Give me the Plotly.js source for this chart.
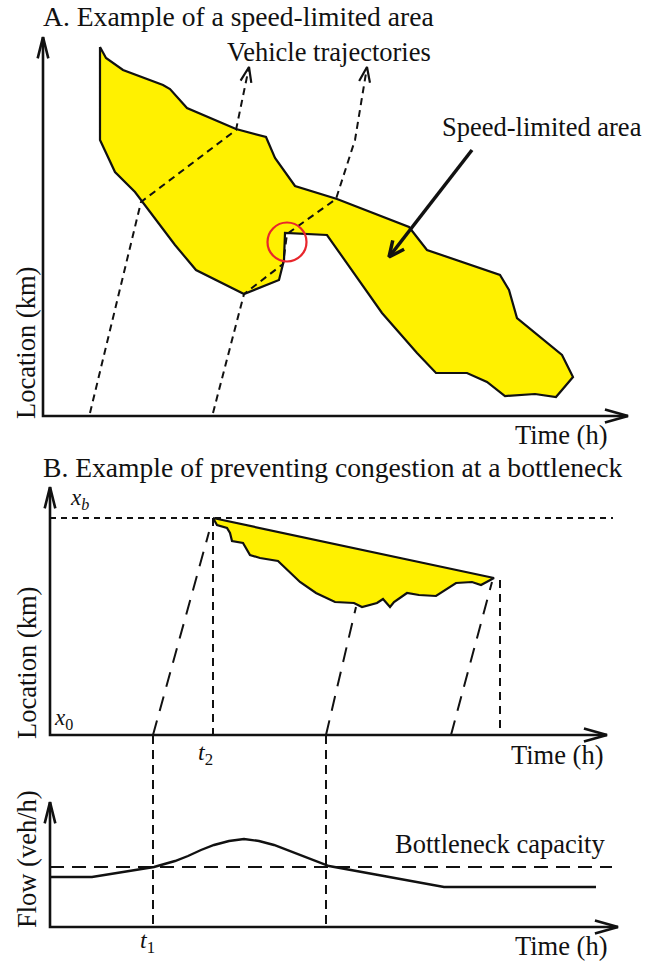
<!DOCTYPE html>
<html><head><meta charset="utf-8">
<script src="https://cdn.plot.ly/plotly-3.0.1.min.js"></script>
<style>html,body{margin:0;padding:0;background:#fff;}#chart{width:663px;height:962px;}</style>
</head><body><div id="chart"></div>
<script>
// ---------- Panel A: speed-limited area (schematic units = figure space) ----------
const areaAX = [100,106,123,150,163,170,187,236,266,275,295,337,409,427,500,509,517,562,573,556,535,505,487,467,436,417,382,327,285,284,279,244,196,175,141,135,115,100,100];
const areaAY = [47,58,70,80,85,89,108,129,137,158,186,199,227,250,275,290,318,355,377,397,394,396,382,373,373,353,313,235,233,260,280,294,270,245,200,192,172,140,47];
const trajA1X = [90,141,236,249];
const trajA1Y = [413,202,130,67];
const trajA2X = [213,244,283,287,336,355,367];
const trajA2Y = [413,294,264,234,199,140,67];
const axisAX = [43,43,628];
const axisAY = [37,416,416];
const pointerX = [472,389];
const pointerY = [150,257];
const circleA = {cx:287, cy:242, r:19.5};

// ---------- Panel B: bottleneck ----------
const areaBX = [213,494,481,472,456,436,419,407,394,390,383,377,362,354,335,316,300,290,278,260,250,243,232,230,227,217,213];
const areaBY = [518,578,585,582,583,596,595,593,602,607,599,603,607,603,602,593,582,572,561,558,555,543,541,533,528,525,518];
const axisBX = [50,50,607];
const axisBY = [487,735,735];
const xbLineX = [50,613];
const xbLineY = [518,518];
const trajB = [
  {x:[153,209], y:[735,532]},
  {x:[326,356], y:[735,607]},
  {x:[451,492], y:[735,582]}
];
const vertB = [
  {x:[213,213], y:[518,735]},
  {x:[500,500], y:[580,735]}
];

// ---------- Panel C: flow ----------
const axisCX = [50,50,618];
const axisCY = [802,927,927];
const flowX = [50,92,154,162,175,188,201,214,229,244,259,274,287,299,314,329,444,596];
const flowY = [877,877,867,865,861,856,850,845,841,839,841,845,850,855,861,866,887,887];
const capacityX = [50,612];
const capacityY = [867,867];
const vertC = [
  {x:[153,153], y:[735,925]},
  {x:[326,326], y:[735,925]}
];

const YELLOW = '#fff100';
const BLACK = '#111111';
const traces = [];

function line(x, y, w, dash, color) {
  traces.push({type:'scatter', mode:'lines', x:x, y:y, hoverinfo:'skip',
    line:{color:color||BLACK, width:w, dash:dash||'solid'}});
}
function poly(x, y) {
  traces.push({type:'scatter', mode:'lines', x:x, y:y, fill:'toself', fillcolor:YELLOW,
    hoverinfo:'skip', line:{color:BLACK, width:2.2}});
}
// open V arrow head from last two points
function vhead(x, y, len, ang, w) {
  const n = x.length;
  const tx = x[n-1], ty = y[n-1];
  let dx = tx - x[n-2], dy = ty - y[n-2];
  const L = Math.hypot(dx, dy); dx /= L; dy /= L;
  const a = ang*Math.PI/180;
  const w1 = [tx - len*(dx*Math.cos(a) - dy*Math.sin(a)), ty - len*(dx*Math.sin(a) + dy*Math.cos(a))];
  const w2 = [tx - len*(dx*Math.cos(-a) - dy*Math.sin(-a)), ty - len*(dx*Math.sin(-a) + dy*Math.cos(-a))];
  line([w1[0], tx, w2[0]], [w1[1], ty, w2[1]], w);
}

// Panel A
poly(areaAX, areaAY);
line(trajA1X, trajA1Y, 2, '7px,5px');
line(trajA2X, trajA2Y, 2, '7px,5px');
vhead(trajA1X.slice(-2), trajA1Y.slice(-2), 16, 20, 2.2);
vhead(trajA2X.slice(-2), trajA2Y.slice(-2), 16, 20, 2.2);
line(pointerX, pointerY, 3.5);
vhead(pointerX, pointerY, 17, 25, 3.5);
line(axisAX, axisAY, 2.6);
vhead([axisAX[0], axisAX[0]], [axisAY[1], axisAY[0]], 22, 14, 2.6);
vhead([axisAX[1], axisAX[2]], [axisAY[2], axisAY[2]], 24, 16, 2.6);

// Panel B
poly(areaBX, areaBY);
line(xbLineX, xbLineY, 2, '6px,5px');
trajB.forEach(t => line(t.x, t.y, 2, '15px,10px'));
vertB.forEach(t => line(t.x, t.y, 2, '8px,6px'));
line(axisBX, axisBY, 2.6);
vhead([axisBX[0], axisBX[0]], [axisBY[1], axisBY[0]], 22, 14, 2.6);
vhead([axisBX[1], axisBX[2]], [axisBY[2], axisBY[2]], 24, 16, 2.6);

// Panel C
vertC.forEach(t => line(t.x, t.y, 2, '9px,6px'));
line(capacityX, capacityY, 2, '14px,8px');
line(flowX, flowY, 2.4);
line(axisCX, axisCY, 2.6);
vhead([axisCX[0], axisCX[0]], [axisCY[1], axisCY[0]], 22, 14, 2.6);
vhead([axisCX[1], axisCX[2]], [axisCY[2], axisCY[2]], 24, 16, 2.6);

const FS = 26.5;
const FT = 27.6;
const FONT = "'Liberation Serif', 'DejaVu Serif', serif";
function txt(s, x, base, xanchor, size, angle) {
  size = size || FS;
  const a = {text:s, x:x, y:base - 0.34*size, xref:'x', yref:'y', showarrow:false,
    xanchor:xanchor||'left', yanchor:'middle', font:{family:FONT, size:size, color:BLACK}};
  if (angle !== undefined) { a.textangle = angle; a.x = x - 0.34*size; a.y = base; a.xanchor='center'; }
  return a;
}
const annotations = [
  txt('A. Example of a speed-limited area', 41, 26, 'left', FT),
  txt('Vehicle trajectories', 225, 61),
  txt('Speed-limited area', 440, 136),
  txt('Time (h)', 610, 444, 'right'),
  txt('Location (km)', 35, 343, 'center', FS, -90),
  txt('B. Example of preventing congestion at a bottleneck', 41, 477, 'left', FT),
  txt('<i>x</i><sub><i>b</i></sub>', 68, 507, 'left', 23),
  txt('<i>x</i><sub>0</sub>', 52, 727, 'left', 23),
  txt('<i>t</i><sub>2</sub>', 196, 762, 'left', 24),
  txt('Time (h)', 606, 764, 'right'),
  txt('Location (km)', 36, 663, 'center', FS, -90),
  txt('Bottleneck capacity', 607, 853, 'right'),
  txt('Flow (veh/h)', 36, 859, 'center', FS, -90),
  txt('<i>t</i><sub>1</sub>', 138, 950, 'left', 24),
  txt('Time (h)', 610, 955, 'right')
];

const shapes = [{type:'circle', xref:'x', yref:'y',
  x0:circleA.cx - circleA.r, x1:circleA.cx + circleA.r,
  y0:circleA.cy - circleA.r, y1:circleA.cy + circleA.r,
  line:{color:'#e8262c', width:2.2}, fillcolor:'rgba(0,0,0,0)', layer:'above'}];

const layout = {
  width:663, height:962, margin:{l:0,r:0,t:0,b:0},
  paper_bgcolor:'#ffffff', plot_bgcolor:'#ffffff', showlegend:false,
  font:{family:FONT},
  xaxis:{range:[0,663], visible:false, fixedrange:true},
  yaxis:{range:[962,0], visible:false, fixedrange:true},
  annotations:annotations, shapes:shapes
};
Plotly.newPlot('chart', traces, layout, {staticPlot:true, displayModeBar:false});
</script></body></html>
